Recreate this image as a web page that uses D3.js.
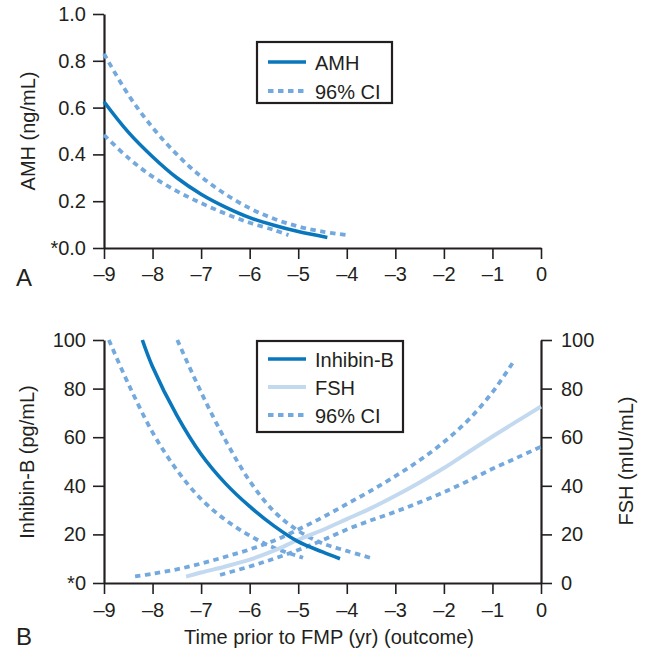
<!DOCTYPE html>
<html>
<head>
<meta charset="utf-8">
<script src="https://cdn.jsdelivr.net/npm/d3@7"></script>
<style>
  html, body { margin: 0; padding: 0; background: #fff; }
  svg { display: block; font-family: "Liberation Sans", Arial, Helvetica, sans-serif; }
</style>
</head>
<body>
<svg id="chart" width="646" height="663"></svg>
<script>
// ---------- DATA ----------
const xTicks = [-9, -8, -7, -6, -5, -4, -3, -2, -1, 0];
const amhTicks = [0, 0.2, 0.4, 0.6, 0.8, 1.0];
const pgTicks = [0, 20, 40, 60, 80, 100];

// Panel A: AMH (ng/mL)
const amhYears = [-9, -8.5, -8, -7.5, -7, -6.5, -6, -5.5, -5, -4.4];
const amhValues = [0.625, 0.495, 0.39, 0.30, 0.23, 0.175, 0.13, 0.097, 0.07, 0.045];
const amhUpperYears = [-9, -8.5, -8, -7.5, -7, -6.5, -6, -5.5, -5, -4.5, -4];
const amhUpperValues = [0.83, 0.655, 0.515, 0.40, 0.305, 0.23, 0.17, 0.125, 0.092, 0.07, 0.055];
const amhLowerYears = [-9, -8.5, -8, -7.5, -7, -6.5, -6, -5.5, -5.2];
const amhLowerValues = [0.483, 0.385, 0.305, 0.243, 0.192, 0.147, 0.108, 0.077, 0.055];

// Panel B: Inhibin-B (pg/mL)
const inhYears = [-8.21, -8, -7.5, -7, -6.5, -6, -5.5, -5, -4.5, -4.14];
const inhValues = [100, 89, 69, 53, 41, 31.5, 23.5, 17, 12.8, 10];
const inhUpperYears = [-7.49, -7, -6.5, -6, -5.5, -5, -4.5, -4, -3.49];
const inhUpperValues = [100, 78.5, 58.8, 42, 29.5, 21.5, 16.3, 13.2, 10.2];
const inhLowerYears = [-8.9, -8.5, -8, -7.5, -7, -6.5, -6, -5.5, -4.9];
const inhLowerValues = [100, 82, 62, 46.5, 34.5, 26, 19.5, 14.5, 10.4];

// Panel B: FSH (mIU/mL), right axis
const fshYears = [-7.31, -7, -6.5, -6, -5.5, -5, -4.5, -4, -3.5, -3, -2.5, -2, -1.5, -1, -0.5, 0];
const fshValues = [2.6, 4.3, 6.8, 9.6, 13.3, 17.8, 21.8, 26.3, 30.8, 35.9, 41.4, 47.3, 53.8, 60.3, 66.5, 72.6];
const fshUpperYears = [-8.36, -8, -7.5, -7, -6.5, -6, -5.5, -5, -4.5, -4, -3.5, -3, -2.5, -2, -1.5, -1, -0.57];
const fshUpperValues = [2.7, 3.8, 5.6, 8, 10.8, 13.8, 17.4, 22, 27, 32.5, 38, 44, 50.5, 58, 67, 78.5, 91];
const fshLowerYears = [-6.61, -6, -5.5, -5, -4.5, -4, -3.5, -3, -2.5, -2, -1.5, -1, -0.5, 0];
const fshLowerValues = [3.3, 6.8, 10, 13.6, 17.6, 22, 25.8, 29.3, 33.2, 37.4, 42, 47, 51.5, 56.1];

const legendA = ["AMH", "96% CI"];
const legendB = ["Inhibin-B", "FSH", "96% CI"];

// ---------- STYLE ----------
const C_DARK = "#0a77bd";
const C_LIGHT = "#c3d9ef";
const C_CI = "#74a9de";
const C_AXIS = "#231f20";
const DASH = "5.5,4.5";
const FS = "20px";

const svg = d3.select("#chart");
const zip = (xs, ys) => xs.map((x, i) => [x, ys[i]]);

const x = d3.scaleLinear().domain([-9, 0]).range([104, 541]);
const yA = d3.scaleLinear().domain([0, 1]).range([248, 14]);
const yB = d3.scaleLinear().domain([0, 100]).range([583, 340]);
const yF = d3.scaleLinear().domain([0, 100]).range([583, 340]);

function styleAxis(g) {
  g.selectAll(".domain").attr("stroke", C_AXIS).attr("stroke-width", 2.2);
  g.selectAll(".tick line").attr("stroke", C_AXIS).attr("stroke-width", 1.6);
  g.selectAll(".tick text").attr("fill", C_AXIS).style("font-size", FS)
    .style("font-family", "'Liberation Sans', Arial, sans-serif");
}

const fmtMinus = d => (d < 0 ? "\u2013" + Math.abs(d) : String(d));
const curve = d3.curveCatmullRom.alpha(0.5);

// ---------- PANEL A ----------
const gA = svg.append("g");
gA.append("g").attr("transform", "translate(0,248)")
  .call(d3.axisBottom(x).tickValues(xTicks).tickSize(11).tickSizeOuter(0).tickPadding(8).tickFormat(fmtMinus))
  .call(styleAxis);
gA.append("g").attr("transform", "translate(104,0)")
  .call(d3.axisLeft(yA).tickValues(amhTicks).tickSize(11).tickSizeOuter(0).tickPadding(7)
    .tickFormat(d => d === 0 ? "*0.0" : d3.format(".1f")(d)))
  .call(styleAxis);

const lineA = d3.line().x(d => x(d[0])).y(d => yA(d[1])).curve(curve);
gA.append("path").datum(zip(amhUpperYears, amhUpperValues)).attr("d", lineA)
  .attr("fill", "none").attr("stroke", C_CI).attr("stroke-width", 3.8).attr("stroke-dasharray", DASH);
gA.append("path").datum(zip(amhLowerYears, amhLowerValues)).attr("d", lineA)
  .attr("fill", "none").attr("stroke", C_CI).attr("stroke-width", 3.8).attr("stroke-dasharray", DASH);
gA.append("path").datum(zip(amhYears, amhValues)).attr("d", lineA)
  .attr("fill", "none").attr("stroke", C_DARK).attr("stroke-width", 3.6);

gA.append("text").attr("transform", "translate(28,131) rotate(-90)").attr("text-anchor", "middle")
  .attr("dominant-baseline", "central").style("font-size", FS).attr("fill", C_AXIS).text("AMH (ng/mL)");
gA.append("text").attr("x", 16).attr("y", 286).style("font-size", "24px").attr("fill", C_AXIS).text("A");

// legend A
const legA = gA.append("g");
legA.append("rect").attr("x", 257).attr("y", 42).attr("width", 135).attr("height", 61)
  .attr("fill", "#fff").attr("stroke", C_AXIS).attr("stroke-width", 2.2);
const legAStyles = [{c: C_DARK, dash: null, w: 3.6}, {c: C_CI, dash: DASH, w: 3.8}];
legendA.forEach((t, i) => {
  const cy = 62 + i * 29;
  legA.append("line").attr("x1", 268).attr("x2", 306).attr("y1", cy).attr("y2", cy)
    .attr("stroke", legAStyles[i].c).attr("stroke-width", legAStyles[i].w)
    .attr("stroke-dasharray", legAStyles[i].dash);
  legA.append("text").attr("x", 315).attr("y", cy + 1).attr("dominant-baseline", "central")
    .style("font-size", FS).attr("fill", C_AXIS).text(t);
});

// ---------- PANEL B ----------
const gB = svg.append("g");
gB.append("g").attr("transform", "translate(0,583)")
  .call(d3.axisBottom(x).tickValues(xTicks).tickSize(11).tickSizeOuter(0).tickPadding(9).tickFormat(fmtMinus))
  .call(styleAxis);
gB.append("g").attr("transform", "translate(104,0)")
  .call(d3.axisLeft(yB).tickValues(pgTicks).tickSize(11).tickSizeOuter(0).tickPadding(7)
    .tickFormat(d => d === 0 ? "*0" : String(d)))
  .call(styleAxis);
gB.append("g").attr("transform", "translate(541,0)")
  .call(d3.axisRight(yF).tickValues(pgTicks).tickSize(11).tickSizeOuter(0).tickPadding(9))
  .call(styleAxis);

const lineB = d3.line().x(d => x(d[0])).y(d => yB(d[1])).curve(curve);
const lineF = d3.line().x(d => x(d[0])).y(d => yF(d[1])).curve(curve);

[[inhUpperYears, inhUpperValues, lineB], [inhLowerYears, inhLowerValues, lineB],
 [fshUpperYears, fshUpperValues, lineF], [fshLowerYears, fshLowerValues, lineF]].forEach(([xs, ys, ln]) => {
  gB.append("path").datum(zip(xs, ys)).attr("d", ln)
    .attr("fill", "none").attr("stroke", C_CI).attr("stroke-width", 3.8).attr("stroke-dasharray", DASH);
});
gB.append("path").datum(zip(fshYears, fshValues)).attr("d", lineF)
  .attr("fill", "none").attr("stroke", C_LIGHT).attr("stroke-width", 4);
gB.append("path").datum(zip(inhYears, inhValues)).attr("d", lineB)
  .attr("fill", "none").attr("stroke", C_DARK).attr("stroke-width", 3.6);

gB.append("text").attr("transform", "translate(27,462) rotate(-90)").attr("text-anchor", "middle")
  .attr("dominant-baseline", "central").style("font-size", FS).attr("fill", C_AXIS).text("Inhibin-B (pg/mL)");
gB.append("text").attr("transform", "translate(626,461) rotate(-90)").attr("text-anchor", "middle")
  .attr("dominant-baseline", "central").style("font-size", FS).attr("fill", C_AXIS).text("FSH (mIU/mL)");
gB.append("text").attr("x", 329).attr("y", 637).attr("text-anchor", "middle").attr("dominant-baseline", "central")
  .style("font-size", FS).attr("fill", C_AXIS).text("Time prior to FMP (yr) (outcome)");
gB.append("text").attr("x", 16).attr("y", 645).style("font-size", "24px").attr("fill", C_AXIS).text("B");

// legend B
const legB = gB.append("g");
legB.append("rect").attr("x", 257).attr("y", 341).attr("width", 146).attr("height", 91)
  .attr("fill", "#fff").attr("stroke", C_AXIS).attr("stroke-width", 2.2);
const legBStyles = [{c: C_DARK, dash: null, w: 3.6}, {c: C_LIGHT, dash: null, w: 4}, {c: C_CI, dash: DASH, w: 3.8}];
legendB.forEach((t, i) => {
  const cy = 359 + i * 28;
  legB.append("line").attr("x1", 268).attr("x2", 306).attr("y1", cy).attr("y2", cy)
    .attr("stroke", legBStyles[i].c).attr("stroke-width", legBStyles[i].w)
    .attr("stroke-dasharray", legBStyles[i].dash);
  legB.append("text").attr("x", 315).attr("y", cy + 1).attr("dominant-baseline", "central")
    .style("font-size", FS).attr("fill", C_AXIS).text(t);
});
</script>
</body>
</html>
